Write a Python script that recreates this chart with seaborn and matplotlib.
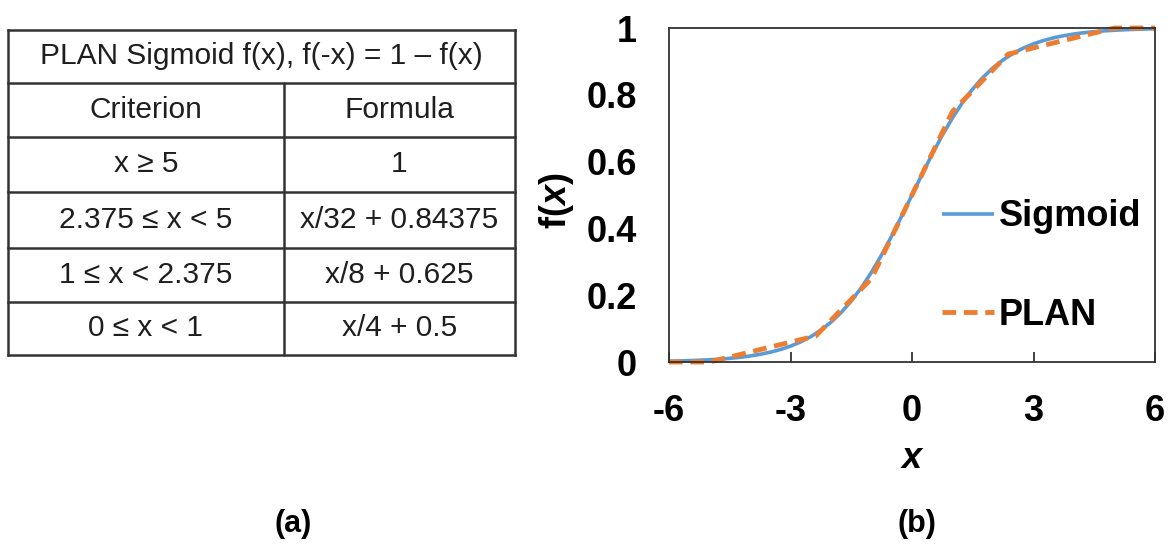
import numpy as np
import pandas as pd
import matplotlib
matplotlib.use("Agg")
import matplotlib.pyplot as plt
import seaborn as sns

sns.set_theme(style="white")
plt.rcParams["font.family"] = ["Liberation Sans", "DejaVu Sans"]
plt.rcParams["mathtext.fontset"] = "custom"
plt.rcParams["mathtext.it"] = "Liberation Sans:italic:bold"
plt.rcParams["mathtext.rm"] = "Liberation Sans:bold"
plt.rcParams["text.color"] = "black"
plt.rcParams["axes.labelcolor"] = "black"

# --- table content -------------------------------------------------------
table_title = "PLAN Sigmoid f(x), f(-x) = 1 \u2013 f(x)"
col_headers = ["Criterion", "Formula"]
criteria = ["x \u2265 5", "2.375 \u2264 x < 5", "1 \u2264 x < 2.375", "0 \u2264 x < 1"]
formulas = ["1", "x/32 + 0.84375", "x/8 + 0.625", "x/4 + 0.5"]

# --- curve samples -------------------------------------------------------
sig_x = [-6.0, -5.75, -5.5, -5.25, -5.0, -4.75, -4.5, -4.25, -4.0, -3.75,
         -3.5, -3.25, -3.0, -2.75, -2.5, -2.25, -2.0, -1.75, -1.5, -1.25,
         -1.0, -0.75, -0.5, -0.25, 0.0, 0.25, 0.5, 0.75, 1.0, 1.25,
         1.5, 1.75, 2.0, 2.25, 2.5, 2.75, 3.0, 3.25, 3.5, 3.75,
         4.0, 4.25, 4.5, 4.75, 5.0, 5.25, 5.5, 5.75, 6.0]
sig_y = [0.00247, 0.00317, 0.00407, 0.00522, 0.00669, 0.00858, 0.01099, 0.01406,
         0.01799, 0.02298, 0.02931, 0.03732, 0.04743, 0.06008, 0.07586, 0.09534,
         0.11920, 0.14805, 0.18243, 0.22270, 0.26894, 0.32082, 0.37754, 0.43782,
         0.50000, 0.56218, 0.62246, 0.67918, 0.73106, 0.77730, 0.81757, 0.85195,
         0.88080, 0.90466, 0.92414, 0.93992, 0.95257, 0.96268, 0.97069, 0.97702,
         0.98201, 0.98594, 0.98901, 0.99142, 0.99331, 0.99478, 0.99593, 0.99683,
         0.99753]
plan_x = [-6.0, -5.0, -2.375, -1.0, 0.0, 1.0, 2.375, 5.0, 6.0]
plan_y = [0.0, 0.0, 0.078125, 0.25, 0.5, 0.75, 0.921875, 1.0, 1.0]

x_ticks = [-6, -3, 0, 3, 6]
y_ticks = [0, 0.2, 0.4, 0.6, 0.8, 1]
y_tick_labels = ["0", "0.2", "0.4", "0.6", "0.8", "1"]

BLUE = "#5B9BD5"
ORANGE = "#ED7D31"
INK = "#1E1E1E"
EDGE = "#333333"

W, H = 1168, 547
fig = plt.figure(figsize=(W / 100, H / 100), dpi=100)
fig.patch.set_facecolor("white")

# --- (a) table drawn on its own axes --------------------------------------
tax = fig.add_axes([8 / W, 1 - 355 / H, 507 / W, 325 / H])
tax.set_xlim(0, 507)
tax.set_ylim(325, 0)
tax.axis("off")
row_edges = [0, 53, 107, 162, 218, 272, 325]
col_split = 284 - 8
for y in row_edges:
    tax.plot([0, 507], [y, y], color=EDGE, lw=1.8, solid_capstyle="projecting", clip_on=False)
for x in [0, 507]:
    tax.plot([x, x], [0, 325], color=EDGE, lw=1.8, solid_capstyle="projecting", clip_on=False)
tax.plot([col_split, col_split], [row_edges[1], 325], color=EDGE, lw=1.8, clip_on=False)

fs_tab = 21.5
tax.text(507 / 2, (row_edges[0] + row_edges[1]) / 2, table_title,
         ha="center", va="center", fontsize=fs_tab, color=INK)
rows = [col_headers] + [[c, f] for c, f in zip(criteria, formulas)]
for i, (left, right) in enumerate(rows):
    yc = (row_edges[i + 1] + row_edges[i + 2]) / 2
    tax.text(col_split / 2, yc, left, ha="center", va="center", fontsize=fs_tab, color=INK)
    tax.text((col_split + 507) / 2, yc, right, ha="center", va="center", fontsize=fs_tab, color=INK)

# --- (b) sigmoid vs PLAN --------------------------------------------------
ax = fig.add_axes([669 / W, 1 - 362 / H, 486 / W, 334 / H])
df_sig = pd.DataFrame({"x": sig_x, "f": sig_y})
df_plan = pd.DataFrame({"x": plan_x, "f": plan_y})
sns.lineplot(data=df_sig, x="x", y="f", ax=ax, color=BLUE, lw=2.6, label="Sigmoid")
sns.lineplot(data=df_plan, x="x", y="f", ax=ax, color=ORANGE, lw=3.5, label="PLAN")
ax.lines[1].set_dashes([2.8, 1.6])
for ln in ax.lines:
    ln.set_clip_on(False)
    ln.set_solid_capstyle("butt")

ax.set_xlim(-6, 6)
ax.set_ylim(0, 1)
ax.set_xticks(x_ticks)
ax.set_xticklabels([str(t) for t in x_ticks])
ax.set_yticks(y_ticks)
ax.set_yticklabels(y_tick_labels)
ax.tick_params(axis="x", direction="in", length=7, width=1.3, color=EDGE,
               pad=23, labelsize=26, bottom=True, labelcolor="black")
ax.tick_params(axis="y", length=0, pad=23, labelsize=26, left=True, labelcolor="black")
for lab in ax.get_xticklabels() + ax.get_yticklabels():
    lab.set_fontweight("bold")
for sp in ax.spines.values():
    sp.set_visible(True)
    sp.set_color(EDGE)
    sp.set_linewidth(1.3)

ax.set_xlabel("x", fontsize=26, fontweight="bold", fontstyle="italic", color="black")
ax.xaxis.label.set_va("center")
ax.xaxis.set_label_coords(0.5, (362 - 459) / 334)
ax.set_ylabel(r"f($x$)", fontsize=26, fontweight="bold", color="black")
ax.yaxis.label.set_va("center")
ax.yaxis.set_label_coords((557 - 669) / 486, (362 - 201) / 334)

leg = ax.legend(loc="center left", bbox_to_anchor=(942 / W, 1 - 266 / H),
                bbox_transform=fig.transFigure, frameon=False, fontsize=26,
                handlelength=1.45, handletextpad=0.12, labelspacing=1.75,
                borderpad=0, borderaxespad=0)
for t in leg.get_texts():
    t.set_fontweight("bold")
    t.set_color("black")

# --- panel captions -------------------------------------------------------
fig.text(293 / W, 1 - 524 / H, "(a)", ha="center", va="center", fontsize=22,
         fontweight="bold", color="black")
fig.text(917 / W, 1 - 524 / H, "(b)", ha="center", va="center", fontsize=22,
         fontweight="bold", color="black")

fig.savefig("out.png", dpi=100, facecolor="white")
